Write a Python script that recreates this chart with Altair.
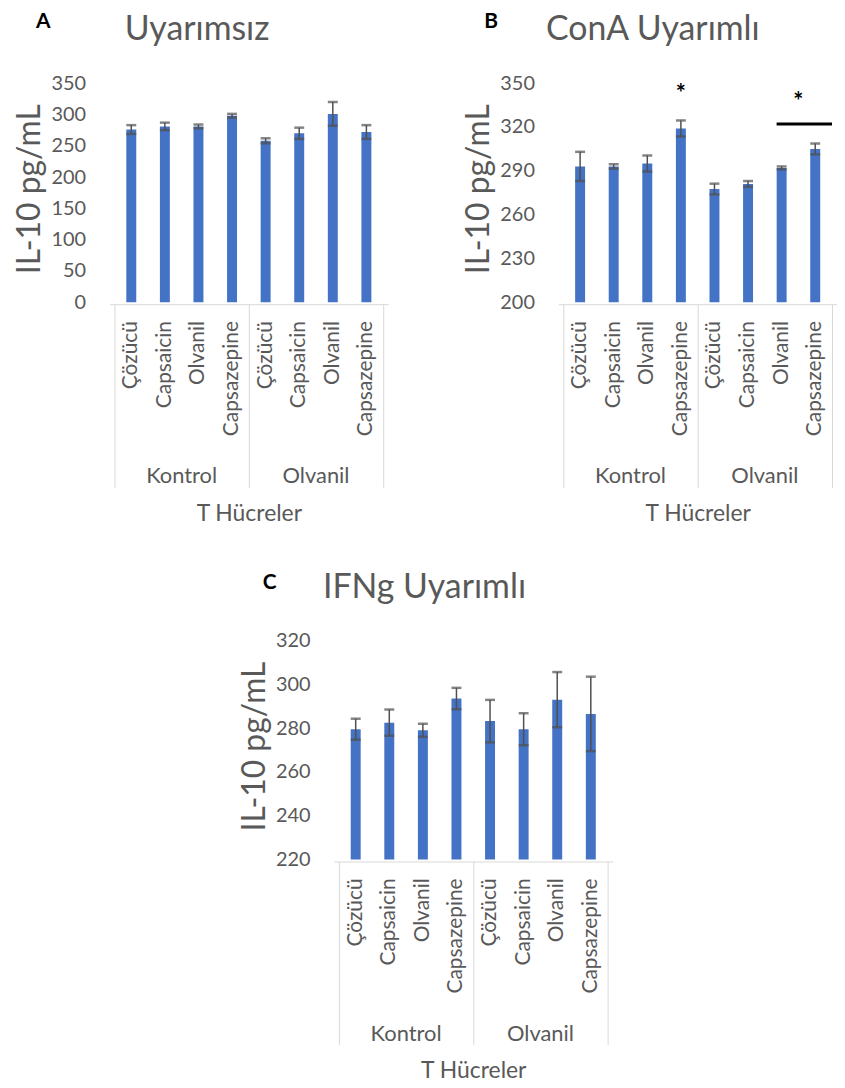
import altair as alt
import pandas as pd

FONT = "Lato"
GRAY = "#595959"
BAR = "#4472C4"
ERR = "#505050"
BOX = "#d9d9d9"

categories = ["Çözücü", "Capsaicin", "Olvanil", "Capsazepine"]
groups = ["Kontrol", "Olvanil"]
x_title = "T Hücreler"
y_title = "IL-10 pg/mL"

letters = ["A", "B", "C"]
titles = ["Uyarımsız", "ConA Uyarımlı", "IFNg Uyarımlı"]

a_mean = [276, 281, 281, 298, 258, 270, 301, 272]
a_err = [7, 6, 3, 3, 4, 9, 19, 11]
a_domain = [0, 350]
a_ticks = [0, 50, 100, 150, 200, 250, 300, 350]

b_mean = [293, 293, 295, 319, 277.5, 281, 292, 305]
b_err = [10, 1.5, 5.5, 5.5, 3.7, 2, 1, 3.7]
b_domain = [200, 350]
b_ticks = [200, 230, 260, 290, 320, 350]

c_mean = [279.5, 282.5, 279, 293.5, 283.2, 279.5, 293, 286.5]
c_err = [4.8, 6, 3, 4.9, 9.7, 7.3, 12.6, 17]
c_domain = [220, 320]
c_ticks = [220, 240, 260, 280, 300, 320]

# significance marks (panel B)
star_idx = [3]
star_val = [346.5]
bracket_idx = [6, 7]
bracket_val = 322
bracket_star_val = 341

W, H = 280, 220
NC = len(categories)
N = NC * len(groups)


def panel(letter, title, mean, err, domain, ticks, title_pos, letter_pos, extras=None):
    rows = []
    for gi, g in enumerate(groups):
        for ci, c in enumerate(categories):
            i = gi * NC + ci
            rows.append(dict(pos=i, group=g, cat=c, mean=mean[i], base=domain[0],
                             lo=mean[i] - err[i], hi=mean[i] + err[i]))
    df = pd.DataFrame(rows)
    seps = [-0.5 + k * NC for k in range(len(groups) + 1)]
    gdf = pd.DataFrame({"group": groups,
                        "center": [gi * NC + (NC - 1) / 2 for gi in range(len(groups))]})

    xscale = alt.Scale(domain=[-0.5, N - 0.5], nice=False, zero=False)
    yscale = alt.Scale(domain=domain, nice=False, zero=False)
    xaxis = alt.Axis(values=seps, labels=False, ticks=True, tickSize=184, tickColor=BOX,
                     tickWidth=1, domainColor=BOX, domainWidth=1, offset=2, grid=False,
                     title=x_title, titleFont=FONT, titleFontSize=23, titleFontWeight="normal",
                     titleColor=GRAY, titleY=210, titleBaseline="middle")
    yaxis = alt.Axis(values=ticks, domain=False, ticks=False, tickSize=0, grid=False,
                     labelFont=FONT, labelFontSize=20, labelColor=GRAY, labelPadding=24,
                     title=y_title, titleFont=FONT, titleFontSize=32, titleFontWeight="normal",
                     titleColor=GRAY, titleX=-80, titleY=H / 2 - 4, titleAngle=270,
                     titleAlign="center", titleBaseline="middle")

    def X(f):
        return alt.X(f, scale=xscale, axis=xaxis)

    def Y(f):
        return alt.Y(f, scale=yscale, axis=yaxis)

    base = alt.Chart(df)
    bars = base.mark_bar(width=10, color=BAR).encode(x=X("pos:Q"), y=Y("mean:Q"), y2="base:Q")
    stem = base.mark_rule(color=ERR, strokeWidth=1.5).encode(x=X("pos:Q"), y=Y("lo:Q"), y2="hi:Q")
    cap_lo = base.mark_tick(orient="horizontal", size=10, thickness=2.5, color=ERR).encode(
        x=X("pos:Q"), y=Y("lo:Q"))
    cap_hi = base.mark_tick(orient="horizontal", size=10, thickness=2.5, color=ERR).encode(
        x=X("pos:Q"), y=Y("hi:Q"))
    cat_labels = base.mark_text(angle=270, align="right", baseline="middle", font=FONT,
                                fontSize=21, color=GRAY).encode(
        x=X("pos:Q"), y=alt.value(H + 19), text="cat:N")
    grp_labels = alt.Chart(gdf).mark_text(align="center", baseline="middle", font=FONT,
                                          fontSize=22, color=GRAY).encode(
        x=X("center:Q"), y=alt.value(H + 175), text="group:N")
    ttl = alt.Chart(pd.DataFrame({"t": [title]})).mark_text(
        align="center", baseline="middle", font=FONT, fontSize=34, color=GRAY).encode(
        x=alt.value(title_pos[0]), y=alt.value(title_pos[1]), text="t:N")
    let = alt.Chart(pd.DataFrame({"t": [letter]})).mark_text(
        align="center", baseline="middle", font=FONT, fontSize=21, fontWeight="bold",
        color="black").encode(
        x=alt.value(letter_pos[0]), y=alt.value(letter_pos[1]), text="t:N")
    layers = [bars, stem, cap_lo, cap_hi, cat_labels, grp_labels, ttl, let]
    if extras:
        layers += [e(X, Y) for e in extras]
    return alt.layer(*layers).properties(width=W, height=H)


# significance layers for B
sdf = pd.DataFrame({"pos": star_idx + [sum(bracket_idx) / 2],
                    "v": star_val + [bracket_star_val],
                    "t": ["*"] * (len(star_idx) + 1)})
brdf = pd.DataFrame({"x1": [bracket_idx[0] - 0.15], "x2": [bracket_idx[1] + 0.5],
                     "v": [bracket_val]})


def stars(X, Y):
    return alt.Chart(sdf).mark_text(font=FONT, fontSize=24, fontWeight="bold", color="black",
                                    baseline="middle", dy=7).encode(
        x=X("pos:Q"), y=Y("v:Q"), text="t:N")


def bracket(X, Y):
    return alt.Chart(brdf).mark_rule(color="black", strokeWidth=3).encode(
        x=X("x1:Q"), x2="x2:Q", y=Y("v:Q"))


A = panel(letters[0], titles[0], a_mean, a_err, a_domain, a_ticks, (88, -53), (-66.5, -61))
B = panel(letters[1], titles[1], b_mean, b_err, b_domain, b_ticks, (95, -53), (-67.5, -62),
          extras=[stars, bracket])
C = panel(letters[2], titles[2], c_mean, c_err, c_domain, c_ticks, (91, -53), (-64.5, -58))

top = alt.hconcat(A, B, spacing=171, bounds="flush")
chart = alt.vconcat(top, C, spacing=46, center=True).properties(
    padding={"left": 6, "top": 0, "right": 0, "bottom": 0}
).configure_view(stroke=None)

chart.save("out.html", embed_options={"renderer": "svg", "actions": False})
